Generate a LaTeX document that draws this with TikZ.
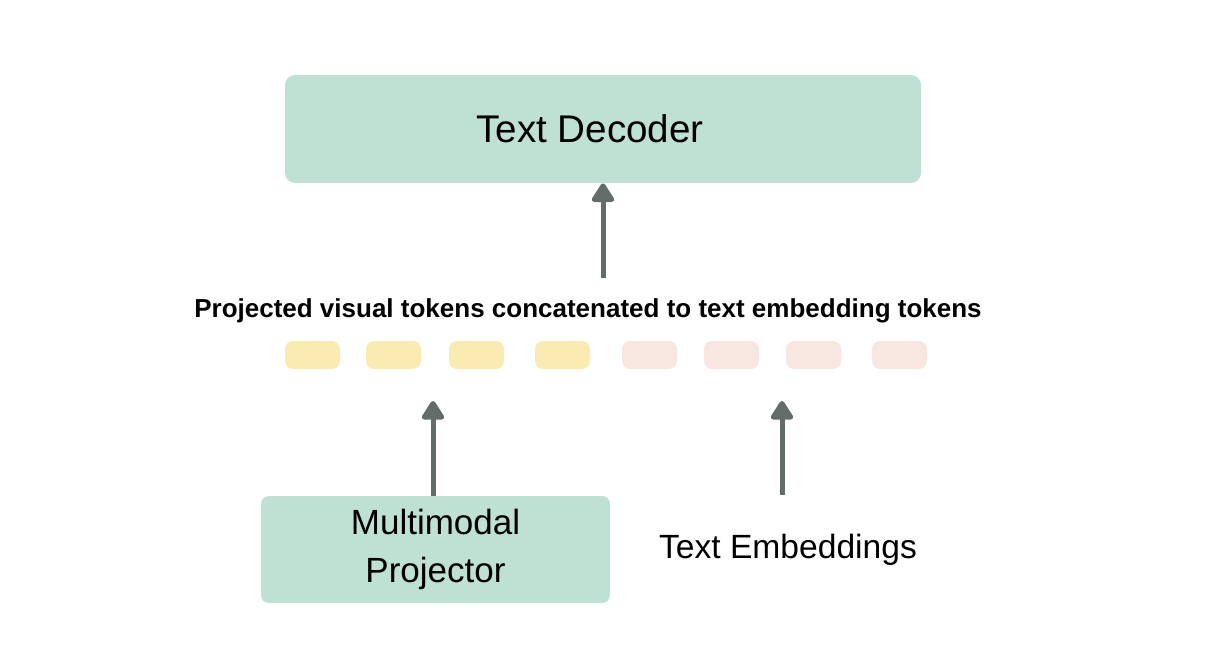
\documentclass[tikz,border=0pt]{standalone}
\usepackage{fontspec}
\setmainfont{Liberation Sans}
\usetikzlibrary{arrows.meta}

\definecolor{mintBox}{HTML}{BEE1D4}
\definecolor{visTok}{HTML}{FAEBB3}
\definecolor{txtTok}{HTML}{F8E7E0}
\definecolor{arrGray}{HTML}{646C6A}

\begin{document}
\begin{tikzpicture}[x=0.5pt,y=-0.5pt,
    block/.style={fill=mintBox,rounded corners=5pt,inner sep=0pt,align=center},
    token/.style={rounded corners=4pt,inner sep=0pt,minimum width=27.5pt,minimum height=14pt},
    upArrow/.style={draw=arrGray,line width=2.5pt,-{Triangle[length=10.5pt,width=12.5pt,round]}}]
  \useasboundingbox (0,0) rectangle (1228,658);
  % boxes
  \node[block,minimum width=318pt,minimum height=54pt,font=\fontsize{19.3}{22}\selectfont] (dec) at (603,129)
    {\hspace*{-13pt}Text Decoder};
  \node[block,minimum width=174.5pt,minimum height=53.5pt,rounded corners=4pt,
        font=\fontsize{17.5}{24}\selectfont] (proj) at (435.5,549.5) {Multimodal\\Projector};
  \node[anchor=base,font=\fontsize{16.8}{19}\selectfont] (emb) at (788,558) {Text Embeddings};
  \node[anchor=base,font=\bfseries\fontsize{13}{16}\selectfont] (seq) at (588,317)
    {Projected visual tokens concatenated to text embedding tokens};
  % token row
  \foreach \x/\c [count=\i] in {312.5/visTok,393.5/visTok,476.5/visTok,562.5/visTok,
                                649.5/txtTok,731.5/txtTok,813.5/txtTok,899.5/txtTok}
    \node[token,fill=\c] (tok\i) at (\x,355) {};
  % arrows
  \coordinate (decIn) at (603,278);
  \coordinate (visIn) at (433,401);
  \coordinate (txtIn) at (782,401);
  \coordinate (txtOut) at (782,495);
  \draw[upArrow] (decIn) -- (dec.south -| decIn);
  \draw[upArrow] (proj.north -| visIn) -- (visIn);
  \draw[upArrow] (txtOut) -- (txtIn);
\end{tikzpicture}
\end{document}
